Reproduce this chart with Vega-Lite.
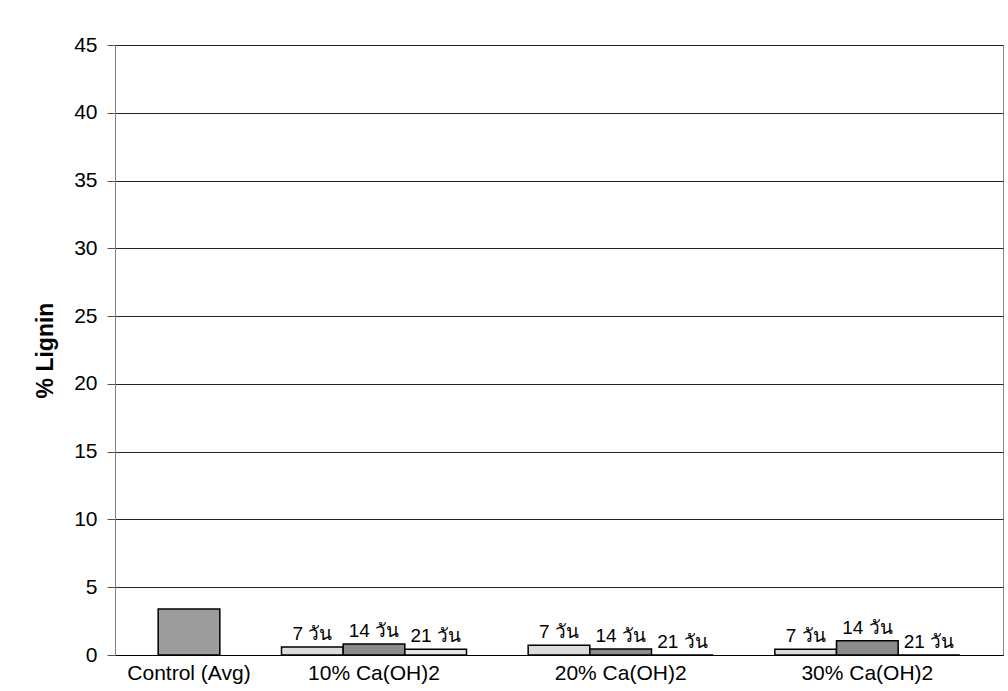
{
  "$schema": "https://vega.github.io/schema/vega-lite/v6.json",
  "autosize": {"type": "none"},
  "padding": {"left": 115, "top": 45, "right": 5, "bottom": 36},
  "width": 888,
  "height": 610,
  "background": "white",
  "config": {
    "view": {"stroke": "#8a8a8a", "strokeWidth": 1},
    "font": "Liberation Sans"
  },
  "data": {
    "values": [
      {"slot": "Control (Avg)", "group": "Control (Avg)", "day": "Control", "lignin": 3.4},
      {"slot": "10% Ca(OH)2|7", "group": "10% Ca(OH)2", "day": "7 วัน", "lignin": 0.59},
      {"slot": "10% Ca(OH)2|14", "group": "10% Ca(OH)2", "day": "14 วัน", "lignin": 0.81},
      {"slot": "10% Ca(OH)2|21", "group": "10% Ca(OH)2", "day": "21 วัน", "lignin": 0.43},
      {"slot": "20% Ca(OH)2|7", "group": "20% Ca(OH)2", "day": "7 วัน", "lignin": 0.72},
      {"slot": "20% Ca(OH)2|14", "group": "20% Ca(OH)2", "day": "14 วัน", "lignin": 0.45},
      {"slot": "20% Ca(OH)2|21", "group": "20% Ca(OH)2", "day": "21 วัน", "lignin": 0},
      {"slot": "30% Ca(OH)2|7", "group": "30% Ca(OH)2", "day": "7 วัน", "lignin": 0.42},
      {"slot": "30% Ca(OH)2|14", "group": "30% Ca(OH)2", "day": "14 วัน", "lignin": 1.06},
      {"slot": "30% Ca(OH)2|21", "group": "30% Ca(OH)2", "day": "21 วัน", "lignin": 0}
    ]
  },
  "encoding": {
    "x": {
      "field": "slot",
      "type": "nominal",
      "sort": null,
      "scale": {
        "domain": ["Control (Avg)", "gap1", "10% Ca(OH)2|7", "10% Ca(OH)2|14", "10% Ca(OH)2|21", "gap2", "20% Ca(OH)2|7", "20% Ca(OH)2|14", "20% Ca(OH)2|21", "gap3", "30% Ca(OH)2|7", "30% Ca(OH)2|14", "30% Ca(OH)2|21"],
        "paddingInner": 0,
        "paddingOuter": 0.7
      },
      "axis": {
        "title": null,
        "labelAngle": 0,
        "ticks": false,
        "domainColor": "#000000",
        "domainWidth": 1,
        "labelFontSize": 21,
        "labelColor": "#000000",
        "labelPadding": 7,
        "labelOverlap": false,
        "labelBound": false,
        "labelLimit": 0,
        "labelExpr": "datum.value == 'Control (Avg)' ? datum.value : (indexof(datum.value, '|14') > 0 ? split(datum.value, '|')[0] : '')"
      }
    },
    "y": {
      "field": "lignin",
      "type": "quantitative",
      "scale": {"domain": [0, 45], "nice": false, "zero": true},
      "axis": {
        "title": "% Lignin",
        "titleFontSize": 23,
        "titleFontWeight": "bold",
        "titleColor": "#000000",
        "titlePadding": 16,
        "values": [0, 5, 10, 15, 20, 25, 30, 35, 40, 45],
        "tickSize": 8,
        "tickColor": "#555555",
        "domainColor": "#808080",
        "gridColor": "#222222",
        "gridWidth": 1,
        "labelFontSize": 21,
        "labelColor": "#000000",
        "labelPadding": 10
      }
    }
  },
  "layer": [
    {
      "mark": {"type": "bar", "stroke": "#000000", "strokeWidth": 1.5, "width": {"band": 1}},
      "encoding": {
        "color": {
          "field": "day",
          "type": "nominal",
          "legend": null,
          "scale": {
            "domain": ["Control", "7 วัน", "14 วัน", "21 วัน"],
            "range": ["#9c9c9c", "#dcdcdc", "#8c8c8c", "#e6e6e6"]
          }
        }
      }
    },
    {
      "transform": [{"filter": "datum.day != 'Control'"}],
      "mark": {"type": "text", "baseline": "alphabetic", "dy": -7, "fontSize": 19, "color": "#000000"},
      "encoding": {"text": {"field": "day"}}
    }
  ]
}
